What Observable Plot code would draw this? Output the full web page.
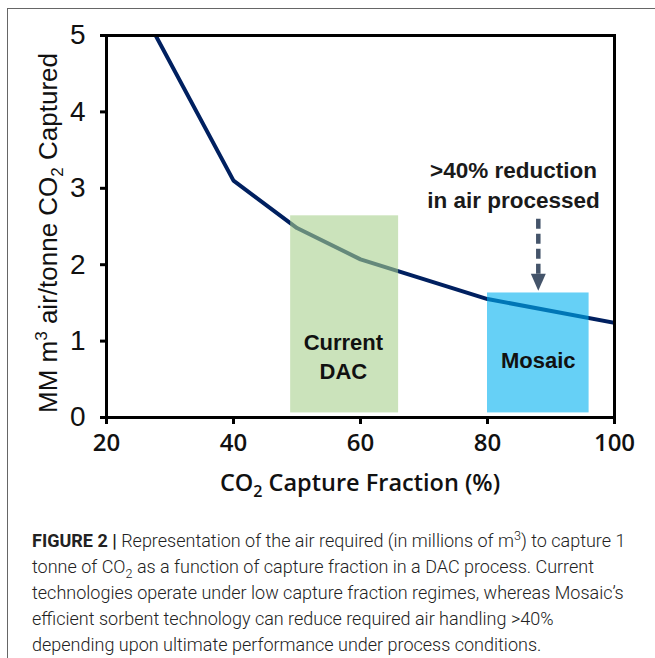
<!DOCTYPE html>
<html><head><meta charset="utf-8">
<script src="https://cdn.jsdelivr.net/npm/d3@7"></script>
<script src="https://cdn.jsdelivr.net/npm/@observablehq/plot@0.6"></script>
<style>
html,body{margin:0;padding:0;background:#fff;width:655px;height:658px;overflow:hidden;}
#wrap{position:relative;width:655px;height:658px;}
#border{position:absolute;left:7px;top:8px;right:-5px;bottom:-5px;border-top:1.5px solid #666;border-left:1.5px solid #666;}
#chart{position:absolute;left:0;top:0;}
#caption{position:absolute;left:32px;top:528px;white-space:nowrap;font-family:Roboto,"Liberation Sans",sans-serif;font-weight:300;font-size:18px;line-height:26px;color:#222;}
#caption b{font-weight:700;}
#caption sup,#caption sub{font-size:0.7em;line-height:0;}
svg g[aria-label="y-axis tick label"] text{font-family:"Liberation Sans",Arial,sans-serif;}
svg g[aria-label="x-axis tick label"] text{font-family:"Open Sans",sans-serif;font-weight:600;}
</style></head>
<body><div id="wrap"><div id="border"></div><div id="chart"></div>
<div id="caption"><b>FIGURE 2 |</b> Representation of the air required (in millions of m<sup>3</sup>) to capture 1<br>tonne of CO<sub>2</sub> as a function of capture fraction in a DAC process. Current<br>technologies operate under low capture fraction regimes, whereas Mosaic’s<br>efficient sorbent technology can reduce required air handling &gt;40%<br>depending upon ultimate performance under process conditions.</div>
</div>
<script>
// Curve data
const captureFraction = [20, 40, 50, 60, 80, 100];
const airRequired = [6.2, 3.1, 2.48, 2.07, 1.55, 1.24];
// Shaded regions
const regionNames = ["Current\nDAC", "Mosaic"];
const regionStart = [49, 80];
const regionEnd = [66, 96];
const regionBottom = [0.06, 0.06];
const regionTop = [2.64, 1.63];
const regionColors = ["#A9D18E", "#00B0F0"];
const regionLabelX = [57.3, 88];
const regionLabelY = [0.81, 0.77];
// Annotation
const annotationText = [">40% reduction\nin air processed"];
const annotationX = [84.1];
const annotationY = [3.06];
const arrowX = [88];
const arrowFrom = [2.6];
const arrowTo = [1.88];
// Ticks
const xTicks = [20, 40, 60, 80, 100];
const yTicks = [0, 1, 2, 3, 4, 5];

const curve = captureFraction.map((x, i) => ({x, y: airRequired[i]}));
const regions = regionNames.map((name, i) => ({name, x1: regionStart[i], x2: regionEnd[i], y1: regionBottom[i], y2: regionTop[i], color: regionColors[i], lx: regionLabelX[i], ly: regionLabelY[i]}));
const annotation = annotationText.map((t, i) => ({t, x: annotationX[i], y: annotationY[i]}));
const arrows = arrowX.map((x, i) => ({x, y1: arrowFrom[i], y2: arrowTo[i]}));

const downTriangle = {
  draw(context, size) {
    const r = Math.sqrt(size / Math.PI);
    context.moveTo(-0.75 * r, 0);
    context.lineTo(0.75 * r, 0);
    context.lineTo(0, 1.7 * r);
    context.closePath();
  }
};

const chart = Plot.plot({
  width: 655,
  height: 500,
  marginLeft: 106,
  marginRight: 41,
  marginTop: 35,
  marginBottom: 83,
  style: {background: "transparent", overflow: "visible"},
  x: {domain: [20, 100]},
  y: {domain: [0, 5]},
  color: {type: "identity"},
  marks: [
    Plot.line(curve, {x: "x", y: "y", stroke: "#002060", strokeWidth: 4, clip: true}),
    Plot.rect(regions, {x1: "x1", x2: "x2", y1: "y1", y2: "y2", fill: "color", fillOpacity: 0.6}),
    Plot.text(regions, {x: "lx", y: "ly", text: "name", fontSize: 22, fontWeight: "bold", fill: "#111", lineHeight: 1.32, fontFamily: "Liberation Sans, Arial, sans-serif"}),
    Plot.text(annotation, {x: "x", y: "y", text: "t", fontSize: 22.5, fontWeight: "bold", fill: "#1a1a1a", lineHeight: 1.3, fontFamily: "Liberation Sans, Arial, sans-serif"}),
    Plot.link(arrows, {x1: "x", x2: "x", y1: "y1", y2: "y2", stroke: "#44546A", strokeWidth: 4.5, strokeDasharray: "10,5"}),
    Plot.dot(arrows, {x: "x", y: "y2", r: 10, symbol: downTriangle, fill: "#44546A", stroke: null}),
    Plot.frame({stroke: "black", strokeWidth: 3}),
    Plot.axisY({ticks: yTicks, tickFormat: d3.format("d"), tickSize: 6, tickPadding: 15, strokeWidth: 3, stroke: "black", fontSize: 28, fill: "#111", label: null}),
    Plot.axisX({ticks: xTicks, tickFormat: d3.format("d"), tickSize: 7, tickPadding: 9, strokeWidth: 3, stroke: "black", fontSize: 24, fill: "#111", label: null})
  ]
});

const svg = d3.select(chart);
const xt = svg.append("text")
  .attr("x", 360).attr("y", 491)
  .attr("text-anchor", "middle")
  .attr("font-family", "Open Sans, sans-serif")
  .attr("font-weight", 600)
  .attr("font-size", 23.5).attr("fill", "#111");
xt.append("tspan").text("CO");
xt.append("tspan").attr("font-size", 16).attr("dy", 6).text("2");
xt.append("tspan").attr("dy", -6).text(" Capture Fraction (%)");

const yt = svg.append("text")
  .attr("transform", "translate(57,233) rotate(-90)")
  .attr("text-anchor", "middle")
  .attr("font-family", "Liberation Sans, Arial, sans-serif")
  .attr("font-size", 26).attr("fill", "#111");
yt.append("tspan").text("MM m");
yt.append("tspan").attr("font-size", 17).attr("dy", -10).text("3");
yt.append("tspan").attr("dy", 10).text(" air/tonne CO");
yt.append("tspan").attr("font-size", 17).attr("dy", 6).text("2");
yt.append("tspan").attr("dy", -6).text(" Captured");

document.getElementById("chart").appendChild(chart);
</script>
</body></html>
